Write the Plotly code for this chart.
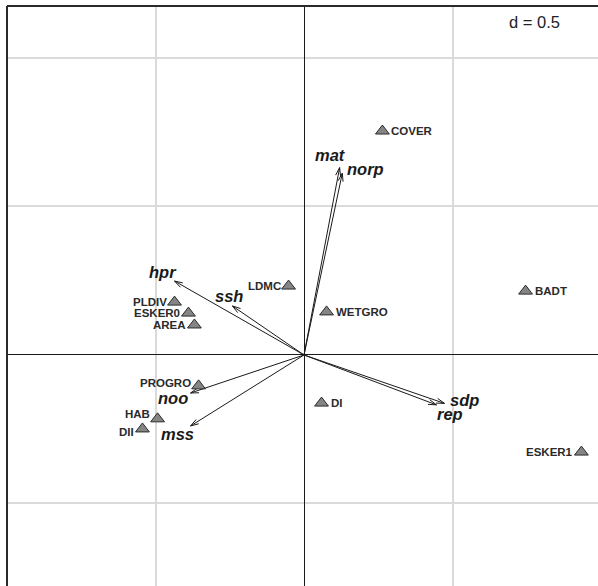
import math
import plotly.graph_objects as go

# Site / descriptor scores (triangles)
site_names = ["COVER", "BADT", "WETGRO", "LDMC", "PLDIV", "ESKER0", "AREA",
              "PROGRO", "HAB", "DII", "DI", "ESKER1"]
site_x = [0.264, 0.746, 0.076, -0.052, -0.436, -0.389, -0.369,
          -0.355, -0.493, -0.544, 0.059, 0.934]
site_y = [0.754, 0.215, 0.145, 0.232, 0.178, 0.141, 0.101,
          -0.104, -0.215, -0.249, -0.162, -0.327]

# Variable loadings (arrows from the origin)
var_names = ["mat", "norp", "hpr", "ssh", "noo", "mss", "sdp", "rep"]
var_x = [0.120, 0.129, -0.436, -0.241, -0.382, -0.382, 0.473, 0.446]
var_y = [0.631, 0.612, 0.249, 0.165, -0.128, -0.239, -0.163, -0.168]

grid_step = 0.5

# Label placement (side of the marker, pixel nudges)
site_side = {"COVER": "r", "BADT": "r", "WETGRO": "r", "LDMC": "l", "PLDIV": "l",
             "ESKER0": "l", "AREA": "l", "PROGRO": "l", "HAB": "l", "DII": "l",
             "DI": "r", "ESKER1": "l"}
site_dy = {"HAB": 5, "PROGRO": 3, "DII": -3}
var_shift = {"mat": (-9, 13), "norp": (23, 4), "hpr": (-12, 9), "ssh": (-3, 10),
             "noo": (-18, -5), "mss": (-13, -8), "sdp": (20, 3), "rep": (14, -9)}

W, H = 598, 586
ML, MT = 7, 6
PX_PER_UNIT = 297.0
x_lo = -1.0
x_hi = x_lo + (W - ML) / PX_PER_UNIT
y_hi = 1.175
y_lo = y_hi - (H - MT) / PX_PER_UNIT

FONT = "Liberation Sans, Arial, sans-serif"
INK = "#1a1a1a"

fig = go.Figure()

# Arrow shafts and open arrowheads
head_len = 8.5 / PX_PER_UNIT
head_ang = math.radians(17)
for name, vx, vy in zip(var_names, var_x, var_y):
    ang = math.atan2(vy, vx)
    b1 = (vx - head_len * math.cos(ang - head_ang), vy - head_len * math.sin(ang - head_ang))
    b2 = (vx - head_len * math.cos(ang + head_ang), vy - head_len * math.sin(ang + head_ang))
    fig.add_trace(go.Scatter(
        x=[0, vx, None, b1[0], vx, b2[0]],
        y=[0, vy, None, b1[1], vy, b2[1]],
        mode="lines", line=dict(color=INK, width=1), hoverinfo="skip", showlegend=False))

# Triangles
fig.add_trace(go.Scatter(
    x=site_x, y=site_y, mode="markers", text=site_names, hoverinfo="text",
    marker=dict(symbol="triangle-up", size=12, color="#858585",
                line=dict(color="#2b2b2b", width=1)),
    showlegend=False))

annotations = []
for name, sx, sy in zip(site_names, site_x, site_y):
    right = site_side[name] == "r"
    annotations.append(dict(
        x=sx, y=sy, xref="x", yref="y", text=f"<b>{name}</b>", showarrow=False,
        xanchor="left" if right else "right", yanchor="middle", borderpad=0,
        xshift=8 if right else -7, yshift=site_dy.get(name, 0),
        font=dict(family=FONT, size=11.5, color="#2a2a2a")))

for name, vx, vy in zip(var_names, var_x, var_y):
    dx, dy = var_shift[name]
    annotations.append(dict(
        x=vx, y=vy, xref="x", yref="y", text=f"<b><i>{name}</i></b>", showarrow=False,
        xanchor="center", yanchor="middle", xshift=dx, yshift=dy, borderpad=0,
        font=dict(family=FONT, size=16.5, color="#1a1a1a")))

annotations.append(dict(
    x=(562 - ML) / (W - ML), y=1 - (22 - MT) / (H - MT), xref="paper", yref="paper",
    text=f"d = {grid_step}", showarrow=False, xanchor="right", yanchor="middle",
    bgcolor="white", font=dict(family=FONT, size=16.5, color="#222222")))

axis_common = dict(
    showgrid=True, gridcolor="#dadada", gridwidth=1.5, dtick=grid_step, tick0=0,
    zeroline=True, zerolinecolor=INK, zerolinewidth=1,
    showticklabels=False, ticks="", showline=False)

fig.update_layout(
    width=W, height=H,
    margin=dict(l=ML, r=0, t=MT, b=0),
    paper_bgcolor="white", plot_bgcolor="white",
    xaxis=dict(range=[x_lo, x_hi], **axis_common),
    yaxis=dict(range=[y_lo, y_hi], **axis_common),
    annotations=annotations,
    shapes=[
        dict(type="line", xref="paper", yref="paper", x0=0, x1=0, y0=0, y1=1,
             line=dict(color="#2a2a2a", width=2)),
        dict(type="line", xref="paper", yref="paper", x0=0, x1=1, y0=1, y1=1,
             line=dict(color="#2a2a2a", width=2)),
    ],
)

fig.write_html("out.html")
